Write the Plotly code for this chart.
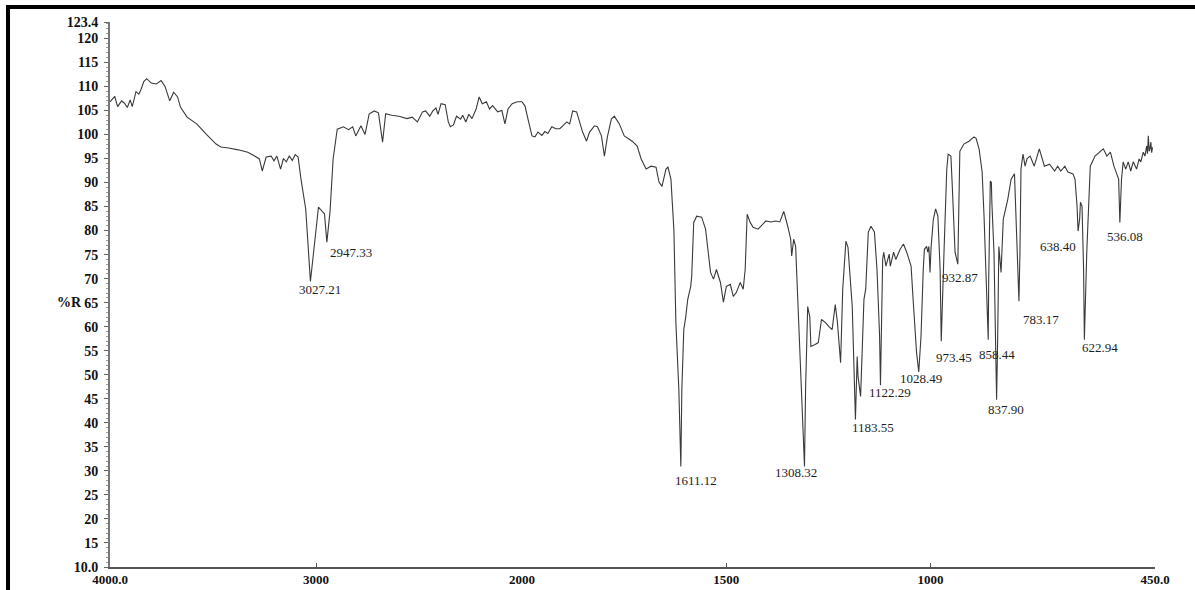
import numpy as np
import plotly.graph_objects as go

# IR reflectance spectrum: wavenumber (cm-1) and %R
wavenumber = [
    4000, 3986, 3977, 3963, 3944, 3930, 3916, 3902, 3892, 3883, 3874, 3860, 3850, 3836, 3822,
    3799, 3775, 3752, 3733, 3710, 3691, 3672, 3658, 3626, 3579, 3532, 3485, 3462, 3424, 3378,
    3331, 3298, 3275, 3261, 3242, 3218, 3204, 3190, 3172, 3158, 3144, 3130, 3115, 3101, 3087,
    3073, 3050, 3027.21, 3005, 2988, 2970, 2959, 2947.33, 2932, 2917, 2897, 2867, 2842, 2822,
    2807, 2782, 2762, 2742, 2717, 2697, 2677, 2662, 2633, 2598, 2558, 2533, 2508, 2483, 2468,
    2448, 2433, 2418, 2408, 2393, 2373, 2358, 2348, 2333, 2318, 2298, 2288, 2273, 2258, 2243,
    2223, 2208, 2193, 2173, 2158, 2143, 2118, 2098, 2083, 2068, 2048, 2023, 2000,
    1992.7, 1985.4, 1975.7, 1968.4, 1961.1, 1951.4, 1944.1, 1936.8, 1927.1, 1917.4, 1907.6,
    1900.3, 1890.6, 1883.3, 1876.0, 1866.3, 1859.0, 1851.7, 1842.0, 1834.7, 1822.6, 1815.3,
    1805.6, 1798.3, 1791.0, 1781.3, 1774.0, 1761.8, 1749.7, 1730.2, 1718.1, 1708.3, 1696.2,
    1684.0, 1671.9, 1664.6, 1657.3, 1647.6, 1642.7, 1635.4, 1628.1, 1623.3, 1616.0, 1611.12,
    1608.7, 1603.9, 1599.0, 1594.2, 1586.9, 1584.5, 1579.6, 1572.4, 1560.2, 1550.6, 1545.7,
    1538.4, 1531.2, 1523.9, 1514.2, 1506.9, 1499.7, 1490.0, 1482.7, 1475.4, 1465.7, 1458.4,
    1453.6, 1448.7, 1441.4, 1434.2, 1422.1, 1410.0, 1402.7, 1390.6, 1378.5, 1368.8, 1359.1,
    1349.4, 1342.1, 1339.7, 1334.8, 1330.0, 1320.3, 1313.0, 1308.32, 1305.7, 1300.5, 1295.3,
    1292.7, 1282.3, 1274.5, 1266.7, 1256.3, 1248.5, 1240.7, 1233.0, 1227.8, 1219.9, 1214.7,
    1206.9, 1201.8, 1191.4, 1186.2, 1183.55, 1179.3, 1177.2, 1170.9, 1166.9, 1162.7, 1158.4,
    1152.1, 1145.6, 1137.1, 1130.8, 1124.4, 1122.29, 1119.6, 1116.9, 1114.3, 1108.9, 1100.9,
    1098.2, 1090.1, 1084.8, 1074.1, 1066.0, 1058.0, 1047.3, 1041.9, 1033.9, 1028.49, 1023.0,
    1017.5, 1014.7, 1009.2, 1006.5, 1003.7, 1001.0, 998.2, 992.7, 987.2, 981.7, 976.2, 973.45,
    966.7, 959.9, 956.5, 949.8, 946.4, 939.6, 932.87, 930.4, 927.9, 918.0, 905.6, 893.2, 888.2,
    880.8, 873.3, 868.4, 863.4, 858.44, 857.2, 853.3, 850.7, 849.5, 844.3, 841.7, 839.2, 837.90,
    835.2, 832.4, 827.0, 824.2, 821.5, 810.5, 802.3, 794.1, 791.4, 785.9, 783.17, 780.7, 778.2,
    773.2, 768.2, 763.2, 755.7, 745.7, 733.3, 720.8, 708.3, 695.8, 688.3, 680.8, 670.8, 663.3,
    650.9, 645.9, 640.9, 638.40, 634.5, 632.6, 628.7, 624.9, 622.94, 617.1, 611.4, 608.5, 596.9,
    582.4, 576.6, 567.9, 559.2, 550.6, 541.9, 539.0, 536.08, 532.0, 527.9, 521.7, 515.6, 509.4,
    503.3, 495.1, 488.9, 484.8, 478.7, 474.6, 470.5, 468.4, 466.4, 464.3, 462.3, 460.2, 458.2,
    456.1,
]

reflectance = [
    106.8, 107.6, 107.9, 105.8, 107.0, 106.5, 105.6, 107.2, 105.8, 107.3, 108.9, 108.4, 109.3, 111.0, 111.6,
    110.7, 110.5, 111.2, 110.0, 107.0, 108.8, 107.8, 105.7, 103.6, 102.2, 100.0, 98.0, 97.4, 97.2, 96.8,
    96.3, 95.5, 94.9, 92.4, 95.3, 95.5, 94.5, 95.5, 92.8, 95.0, 94.3, 95.5, 94.6, 95.8, 95.3,
    90.7, 84.5, 69.4, 77.6, 84.9, 84.0, 83.5, 77.6, 84.0, 94.9, 101.1, 101.6, 101.0, 101.6,
    99.7, 101.8, 100.0, 104.3, 104.9, 104.5, 98.4, 104.3, 104.0, 103.8, 103.3, 103.6, 102.6, 104.7, 104.9,
    103.8, 104.9, 105.5, 104.2, 106.4, 106.2, 102.6, 101.6, 102.0, 103.8, 103.2, 104.0, 102.6, 104.2, 103.3,
    105.3, 107.8, 106.4, 106.8, 105.3, 106.0, 104.7, 105.0, 102.2, 105.3, 106.4, 106.8, 106.8,
    105.9, 103.2, 99.7, 99.5, 100.5, 99.8, 100.6, 100.2, 101.6, 101.2, 101.2,
    101.8, 102.6, 102.2, 104.9, 104.7, 102.6, 100.5, 98.6, 100.5, 101.8, 101.6,
    99.7, 95.5, 99.5, 103.2, 103.8, 102.2, 99.7, 98.6, 97.6, 94.9, 92.8,
    93.4, 93.2, 90.1, 89.2, 92.8, 93.2, 90.7, 80.0, 60.9, 46.9, 30.9,
    46.9, 59.4, 62.1, 65.7, 68.4, 70.5, 81.7, 83.0, 82.8, 80.3, 76.7,
    71.3, 69.9, 71.9, 69.2, 65.1, 68.4, 68.8, 66.3, 67.1, 69.2, 67.8,
    71.9, 83.4, 81.7, 80.7, 80.3, 81.3, 82.0, 81.8, 82.0, 81.8, 84.0,
    80.9, 78.2, 74.7, 78.2, 76.7, 57.3, 40.0, 30.9, 46.9, 64.2, 62.0,
    55.9, 56.3, 56.7, 61.5, 60.8, 60.0, 59.4, 64.6, 61.0, 52.5, 67.8,
    77.8, 76.5, 64.2, 46.9, 40.7, 53.8, 49.6, 45.5, 57.3, 65.7, 67.8,
    79.7, 80.9, 79.7, 71.9, 58.0, 47.8, 61.5, 74.0, 75.5, 72.6, 75.1,
    72.6, 75.5, 74.0, 76.1, 77.2, 75.5, 72.6, 65.1, 54.6, 50.6, 58.0,
    71.9, 76.1, 76.7, 75.5, 76.7, 71.3, 76.7, 82.4, 84.5, 83.0, 71.9, 57.0,
    75.5, 92.8, 95.9, 95.5, 89.2, 75.5, 73.0, 89.2, 96.5, 98.0, 98.6, 99.5, 99.2,
    97.0, 92.2, 82.4, 68.4, 57.3, 70.0, 90.3, 90.0, 85.9, 75.5, 65.0, 57.3, 44.8,
    58.0, 76.7, 71.3, 77.5, 82.4, 86.5, 90.7, 91.8, 85.9, 72.0, 65.3, 75.5, 92.8,
    95.9, 93.4, 95.0, 95.5, 93.4, 97.0, 93.4, 93.8, 92.4, 93.4, 92.4, 93.4, 92.2,
    91.8, 90.7, 85.1, 79.9, 82.4, 85.9, 85.1, 72.0, 57.3, 75.5, 89.2, 93.4, 95.5,
    96.5, 97.0, 95.5, 96.3, 93.4, 91.0, 90.7, 81.7, 90.7, 94.3, 92.8, 94.3, 92.4,
    94.3, 92.8, 94.9, 94.3, 96.3, 95.5, 97.6, 96.0, 99.7, 96.5, 97.0, 98.4, 96.2,
    97.3,
]

# Labelled band positions (cm-1)
peak_wavenumber = [3027.21, 2947.33, 1611.12, 1308.32, 1183.55, 1122.29, 1028.49,
                   973.45, 932.87, 858.44, 837.90, 783.17, 638.40, 622.94, 536.08]
# pixel offsets of each label from its band minimum
label_dx = [10, 24, 15, -8, 18, 10, 2, 13, 2, 9, 9, 22, -20, 16, 5]
label_dy = [-8, -10, -14, -6, -8, -7, -7, -16, -13, -15, -10, -18, -15, -8, -14]

# Axis ticks
y_tickvals = [10, 15, 20, 25, 30, 35, 40, 45, 50, 55, 60, 65, 70, 75, 80, 85, 90, 95,
              100, 105, 110, 115, 120, 123.4]
y_ticktext = ["10.0", "15", "20", "25", "30", "35", "40", "45", "50", "55", "60", "65",
              "70", "75", "80", "85", "90", "95", "100", "105", "110", "115", "120", "123.4"]
x_high_ticks = [4000, 3000, 2000]
x_high_text = ["4000.0", "3000", "2000"]
x_low_ticks = [1500, 1000, 450]
x_low_text = ["1500", "1000", "450.0"]

w = np.array(wavenumber, dtype=float)
r = np.array(reflectance, dtype=float)
high = w >= 2000
low = w <= 2000

line_style = dict(color="#3a3a3a", width=1.1)
tick_font = dict(family="Liberation Serif", size=14, color="#111111", weight="bold")
xtick_font = dict(family="Liberation Serif", size=13, color="#111111", weight="bold")
label_font = dict(family="Liberation Serif", size=13, color="#1e1e1e")

fig = go.Figure()
fig.add_trace(go.Scatter(x=w[high], y=r[high], mode="lines", line=line_style,
                         xaxis="x", yaxis="y", showlegend=False, hoverinfo="x+y"))
fig.add_trace(go.Scatter(x=w[low], y=r[low], mode="lines", line=line_style,
                         xaxis="x2", yaxis="y", showlegend=False, hoverinfo="x+y"))

# the abscissa scale doubles below 2000 cm-1
split = 0.3943
axis_common = dict(showgrid=False, zeroline=False, showline=True, linecolor="#555555",
                   linewidth=1.5, ticks="inside", ticklen=4, tickcolor="#555555",
                   tickfont=xtick_font, ticklabelstandoff=0, automargin=False, anchor="y")

annotations = []
for p, dx, dy in zip(peak_wavenumber, label_dx, label_dy):
    val = reflectance[wavenumber.index(p)]
    annotations.append(dict(
        x=p, y=val, xref="x" if p >= 2000 else "x2", yref="y",
        text=f"{p:.2f}", showarrow=False, xshift=dx, yshift=dy, font=label_font,
    ))
annotations.append(dict(x=-0.0526, y=65, xref="paper", yref="y", text="%R",
                        showarrow=False, font=tick_font))

fig.update_layout(
    width=1195, height=590,
    margin=dict(l=110, r=40, t=22, b=23),
    paper_bgcolor="white", plot_bgcolor="white",
    xaxis=dict(domain=[0, split], range=[4000, 2000], tickvals=x_high_ticks,
               ticktext=x_high_text, **axis_common),
    xaxis2=dict(domain=[split, 1], range=[2000, 450], tickvals=x_low_ticks,
                ticktext=x_low_text, **axis_common),
    yaxis=dict(range=[10, 123.4], tickvals=y_tickvals, ticktext=y_ticktext,
               showgrid=False, zeroline=False, showline=True, linecolor="#777777",
               linewidth=2, ticks="outside", ticklen=4, tickcolor="#666666",
               tickfont=tick_font, ticklabelstandoff=3, automargin=False,
               minor=dict(dtick=1, ticks="outside", ticklen=2, tickcolor="#999999")),
    annotations=annotations,
    shapes=[
        dict(type="line", xref="paper", yref="paper", x0=-0.0995, x1=1.04,
             y0=1.0275, y1=1.0275, line=dict(color="black", width=4)),
        dict(type="line", xref="paper", yref="paper", x0=-0.0976, x1=-0.0976,
             y0=-0.05, y1=1.0275, line=dict(color="black", width=4)),
    ],
)

fig.write_html("out.html")
